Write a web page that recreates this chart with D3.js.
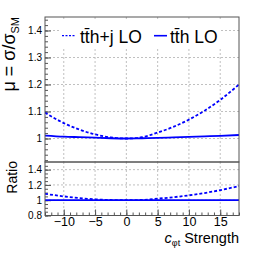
<!DOCTYPE html>
<html><head><meta charset="utf-8">
<script src="https://cdn.jsdelivr.net/npm/d3@7"></script>
<style>
html,body{margin:0;padding:0;background:#fff;}
svg{display:block;font-family:"Liberation Sans",Arial,sans-serif;}
</style></head>
<body>
<svg id="chart" width="266" height="259"></svg>
<script>
// ---- data ----
const cValues   = [-13, -10, -7.5, -5, -2.5, 0, 2.5, 5, 7.5, 10, 12.5, 15, 18];
const muTtHj    = [1.096, 1.057, 1.033, 1.015, 1.004, 1.000, 1.005, 1.022, 1.043, 1.070, 1.103, 1.143, 1.200];
const muTtH     = [1.011, 1.007, 1.005, 1.003, 1.001, 1.000, 1.001, 1.002, 1.004, 1.006, 1.008, 1.010, 1.013];
const ratioTtHj = [1.084, 1.050, 1.028, 1.012, 1.003, 1.000, 1.004, 1.020, 1.039, 1.064, 1.094, 1.132, 1.185];
const ratioTtH  = [1, 1, 1, 1, 1, 1, 1, 1, 1, 1, 1, 1, 1];
const xTicks    = [-10, -5, 0, 5, 10, 15];
const xTickLabels = ["\u221210", "\u22125", "0", "5", "10", "15"];
const yTopTicks = [1, 1.1, 1.2, 1.3, 1.4];
const yTopTickLabels = ["1", "1.1", "1.2", "1.3", "1.4"];
const yRatTicks = [0.8, 1, 1.2, 1.4];
const yRatTickLabels = ["0.8", "1", "1.2", "1.4"];
const legendLabels = ["tt\u0304h+j LO", "tt\u0304h LO"];

const svg = d3.select("#chart");
const L = 45, R = 239, T = 17, MID = 162, B = 215.5;
const x = d3.scaleLinear([-13, 18], [L, R]);
const yTop = d3.scaleLinear([0.913, 1.45], [MID, T]);
const yRat = d3.scaleLinear([0.8, 1.5], [B, MID]);

const blue = "#0000ff", frameCol = "#555", gridCol = "#b0b0b0";

function panel(y, yTicks, yLabels, minorStep, yMin, yMax) {
  const g = svg.append("g");
  g.selectAll(".gx").data(xTicks).join("line")
    .attr("x1", d => x(d)).attr("x2", d => x(d))
    .attr("y1", y.range()[1]).attr("y2", y.range()[0])
    .attr("stroke", gridCol).attr("stroke-width", 0.8).attr("stroke-dasharray", "2,2");
  g.selectAll(".gy").data(yTicks).join("line")
    .attr("x1", L).attr("x2", R)
    .attr("y1", d => y(d)).attr("y2", d => y(d))
    .attr("stroke", gridCol).attr("stroke-width", 0.8).attr("stroke-dasharray", "2,2");
  const minors = d3.range(yMin, yMax + 1e-9, minorStep);
  const ax = g.append("g").attr("transform", `translate(${L},0)`)
    .call(d3.axisLeft(y).tickValues(minors).tickSize(-3).tickFormat(""));
  ax.select(".domain").remove();
  ax.selectAll("line").attr("stroke", frameCol);
  const axM = g.append("g").attr("transform", `translate(${L},0)`)
    .call(d3.axisLeft(y).tickValues(yTicks).tickSize(-6).tickPadding(3)
      .tickFormat((d, i) => yLabels[i]));
  axM.select(".domain").remove();
  axM.selectAll("line").attr("stroke", frameCol);
  axM.selectAll("text").attr("font-size", 10).attr("font-family", "Liberation Sans, Arial, sans-serif").attr("fill", "#000");
  return g;
}

panel(yTop, yTopTicks, yTopTickLabels, 0.02, 0.92, 1.44);
panel(yRat, yRatTicks, yRatTickLabels, 0.05, 0.8, 1.45);

// legend box (covers grid)
svg.append("rect").attr("x", 60).attr("y", 20).attr("width", 161).attr("height", 29).attr("fill", "#fff");

// curves
const line = (ys, y) => d3.line().x((d, i) => x(cValues[i])).y(d => y(d)).curve(d3.curveMonotoneX)(ys);
svg.append("clipPath").attr("id", "clp").append("rect")
  .attr("x", L).attr("y", T).attr("width", R - L).attr("height", B - T);
const cg = svg.append("g").attr("clip-path", "url(#clp)");
cg.append("path").attr("d", line(muTtHj, yTop)).attr("fill", "none").attr("stroke", blue)
  .attr("stroke-width", 1.8).attr("stroke-dasharray", "3,2");
cg.append("path").attr("d", line(muTtH, yTop)).attr("fill", "none").attr("stroke", blue)
  .attr("stroke-width", 1.8);
cg.append("path").attr("d", line(ratioTtHj, yRat)).attr("fill", "none").attr("stroke", blue)
  .attr("stroke-width", 1.8).attr("stroke-dasharray", "3,2");
cg.append("path").attr("d", line(ratioTtH, yRat)).attr("fill", "none").attr("stroke", blue)
  .attr("stroke-width", 1.8);

// x axis (bottom of ratio)
const xMinor = d3.range(-13, 18.01, 1);
const xa = svg.append("g").attr("transform", `translate(0,${B})`)
  .call(d3.axisBottom(x).tickValues(xMinor).tickSize(-3).tickFormat(""));
xa.select(".domain").remove();
xa.selectAll("line").attr("stroke", frameCol);
const xaM = svg.append("g").attr("transform", `translate(0,${B})`)
  .call(d3.axisBottom(x).tickValues(xTicks).tickSize(-6).tickPadding(2)
    .tickFormat((d, i) => xTickLabels[i]));
xaM.select(".domain").remove();
xaM.selectAll("line").attr("stroke", frameCol);
xaM.selectAll("text").attr("font-size", 12.5).attr("font-family", "Liberation Sans, Arial, sans-serif").attr("fill", "#000");

// frames
svg.append("rect").attr("x", L).attr("y", T).attr("width", R - L).attr("height", MID - T)
  .attr("fill", "none").attr("stroke", frameCol).attr("stroke-width", 1);
svg.append("rect").attr("x", L).attr("y", MID).attr("width", R - L).attr("height", B - MID)
  .attr("fill", "none").attr("stroke", frameCol).attr("stroke-width", 1);

// legend
const lg = svg.append("g");
lg.append("line").attr("x1", 62).attr("x2", 76).attr("y1", 35.7).attr("y2", 35.7)
  .attr("stroke", blue).attr("stroke-width", 1.3).attr("stroke-dasharray", "2,1.5");
lg.append("text").attr("x", 80).attr("y", 42.5).attr("font-size", 17.5).text(legendLabels[0]);
lg.append("line").attr("x1", 154).attr("x2", 167).attr("y1", 35.7).attr("y2", 35.7)
  .attr("stroke", blue).attr("stroke-width", 1.6);
lg.append("text").attr("x", 170).attr("y", 42.5).attr("font-size", 17.5).text(legendLabels[1]);

// y titles
const yt = svg.append("text").attr("transform", "translate(15,17) rotate(-90)")
  .attr("text-anchor", "end").attr("font-size", 18);
yt.append("tspan").text("\u03bc = \u03c3/\u03c3");
yt.append("tspan").attr("font-size", 11).attr("dy", 4).text("SM");

svg.append("text").attr("transform", "translate(16.5,161) rotate(-90)")
  .attr("text-anchor", "end").attr("font-size", 14).text("Ratio");

// x title
const xt = svg.append("text").attr("x", R).attr("y", 242.5).attr("text-anchor", "end").attr("font-size", 14.5);
xt.append("tspan").attr("font-style", "italic").text("c");
xt.append("tspan").attr("font-size", 9).attr("dy", 3).text("\u03c6t");
xt.append("tspan").attr("dy", -3).text(" Strength");
</script>
</body></html>
